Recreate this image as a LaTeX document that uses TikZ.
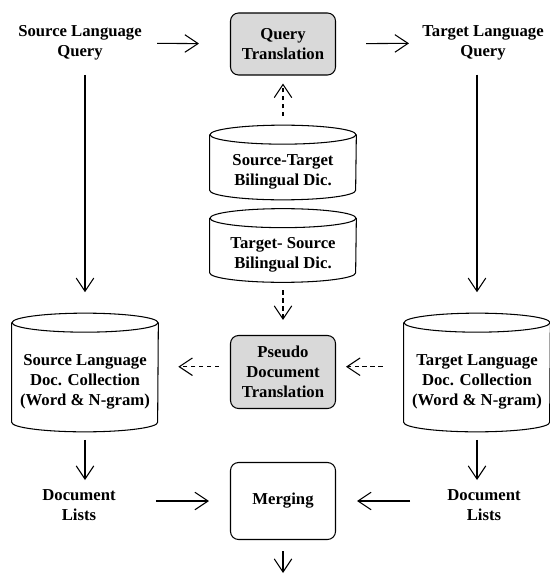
\documentclass[tikz,border=0pt]{standalone}
\usepackage{fontspec}
\setmainfont{Liberation Serif}
\usetikzlibrary{arrows.meta}

% outline of a database drum round a named body node
\newcommand\dbshape[1]{%
  \draw[line width=0.6pt] ([yshift=0.19cm]#1.north) ellipse [x radius=1.46cm, y radius=0.19cm];
  \draw[line width=0.6pt] ([yshift=0.19cm]#1.north west) -- ([yshift=0.19cm]#1.south west)
    arc[start angle=180, end angle=360, x radius=1.46cm, y radius=0.19cm]
    -- ([yshift=0.19cm]#1.north east);
}

\begin{document}
\begin{tikzpicture}[x=0.02cm,y=-0.02cm,
    font=\fontsize{9.5}{11.5}\selectfont\bfseries,
    every node/.style={align=center, inner sep=0pt},
    box/.style={draw, line width=0.6pt, rounded corners=0.16cm, minimum width=2.1cm},
    db/.style={minimum width=2.92cm},
    arr/.style={-{Straight Barb[length=7.5pt,width=10pt]}, line width=0.6pt},
    dasharr/.style={arr, dash pattern=on 2.5pt off 2pt}]
\useasboundingbox (0,0) rectangle (550,574);

% query side
\node (srcq) at (80,43) {Source Language\\Query};
\node[box, fill=gray!30, minimum height=1.24cm] (qtrans) at (283,44) {Query\\Translation};
\node (tgtq) at (483,43) {Target Language\\Query};

% dictionaries
\node[db, minimum height=1.1cm] (stdic) at (283,172) {Source-Target\\Bilingual Dic.};
\node[db, minimum height=1.08cm] (tsdic) at (283,255) {Target- Source\\Bilingual Dic.};
\dbshape{stdic}
\dbshape{tsdic}

% collections
\node[box, fill=gray!30, minimum height=1.46cm] (pseudo) at (283,372) {Pseudo\\Document\\Translation};
\node[db, minimum height=1.98cm] (srccol) at (85,382) {Source Language\\Doc. Collection\\(Word \& N-gram)};
\node[db, minimum height=1.98cm] (tgtcol) at (477,382) {Target Language\\Doc. Collection\\(Word \& N-gram)};
\dbshape{srccol}
\dbshape{tgtcol}

% result lists
\node (srclist) at (79,505) {Document\\Lists};
\node[box, minimum height=1.54cm] (merge) at (283,501) {Merging};
\node (tgtlist) at (484,505) {Document\\Lists};
\coordinate (out) at (283,573);

\draw[arr, shorten <=0.3cm, shorten >=0.62cm] (srcq) -- (qtrans);
\draw[arr, shorten <=0.6cm, shorten >=0.26cm] (qtrans) -- (tgtq);
\draw[arr, shorten <=0.28cm, shorten >=0.8cm] (srccol.north |- srcq.south) -- (srccol.north);
\draw[arr, shorten <=0.28cm, shorten >=0.8cm] (tgtcol.north |- tgtq.south) -- (tgtcol.north);
\draw[dasharr, shorten <=0.56cm, shorten >=0.16cm] (stdic.north) -- (qtrans.south);
\draw[dasharr, shorten <=0.16cm, shorten >=0.3cm] (tsdic.south) -- (pseudo.north);
\draw[dasharr, shorten <=0.22cm, shorten >=0.4cm] ([yshift=3pt]pseudo.west) -- ([yshift=3pt]pseudo.west -| srccol.east);
\draw[dasharr, shorten <=0.42cm, shorten >=0.2cm] ([yshift=3pt]tgtcol.west |- pseudo.east) -- ([yshift=3pt]pseudo.east);
\draw[arr, shorten <=0.16cm, shorten >=0.18cm] (srccol.south) -- (srclist.north -| srccol.south);
\draw[arr, shorten <=0.16cm, shorten >=0.18cm] (tgtcol.south) -- (tgtlist.north -| tgtcol.south);
\draw[arr, shorten <=0.8cm, shorten >=0.42cm] (srclist.east |- merge.west) -- (merge.west);
\draw[arr, shorten <=0.74cm, shorten >=0.42cm] (tgtlist.west |- merge.east) -- (merge.east);
\draw[arr, shorten <=0.22cm] (merge.south) -- (out);
\end{tikzpicture}
\end{document}
